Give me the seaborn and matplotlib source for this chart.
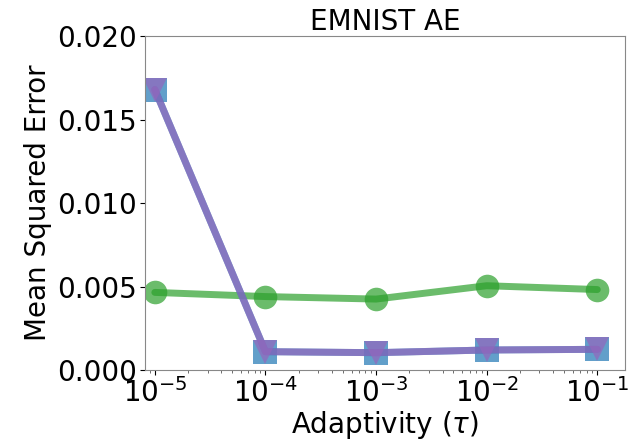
import matplotlib
matplotlib.use("Agg")
import matplotlib.pyplot as plt
import pandas as pd
import seaborn as sns

tau = [1e-5, 1e-4, 1e-3, 1e-2, 1e-1]
mse_circle = [0.00465, 0.00440, 0.00425, 0.00505, 0.00482]
mse_square = [0.01680, 0.00110, 0.00104, 0.00120, 0.00124]
mse_triangle = [0.01680, 0.00110, 0.00104, 0.00120, 0.00124]

series = [
    ("circle", mse_circle, "#2ca02c", "o"),
    ("square", mse_square, "#1f77b4", "s"),
    ("triangle", mse_triangle, "#9467bd", "v"),
]

sns.set_style("ticks")
plt.rcParams["text.color"] = "black"
plt.rcParams["axes.labelcolor"] = "black"
fig, ax = plt.subplots(figsize=(6.41, 4.4), dpi=100)
for name, vals, col, mk in series:
    df = pd.DataFrame({"tau": tau, "mse": vals})
    sns.lineplot(data=df, x="tau", y="mse", ax=ax, color=col, marker=mk,
                 markersize=17, linewidth=5, alpha=0.7, markeredgewidth=0)

ax.set_xscale("log")
ax.set_xlim(10 ** -5.09, 10 ** -0.75)
ax.set_ylim(0, 0.02)
ax.set_yticks([0, 0.005, 0.01, 0.015, 0.02])
ax.set_xticks(tau)
ax.tick_params(which="major", labelsize=20, length=3.5, pad=2, colors="black", labelcolor="black")
ax.tick_params(which="minor", length=2, color="#555555")
ax.set_xlabel("Adaptivity ($\\tau$)", fontsize=20, labelpad=1)
ax.set_ylabel("Mean Squared Error", fontsize=20, labelpad=4)
ax.set_title("EMNIST AE", fontsize=20, pad=4, color="black")
for s in ax.spines.values():
    s.set_visible(True)
    s.set_color("#888888")
fig.subplots_adjust(left=0.226, right=0.975, top=0.918, bottom=0.159)
fig.savefig("out.png", dpi=100)
